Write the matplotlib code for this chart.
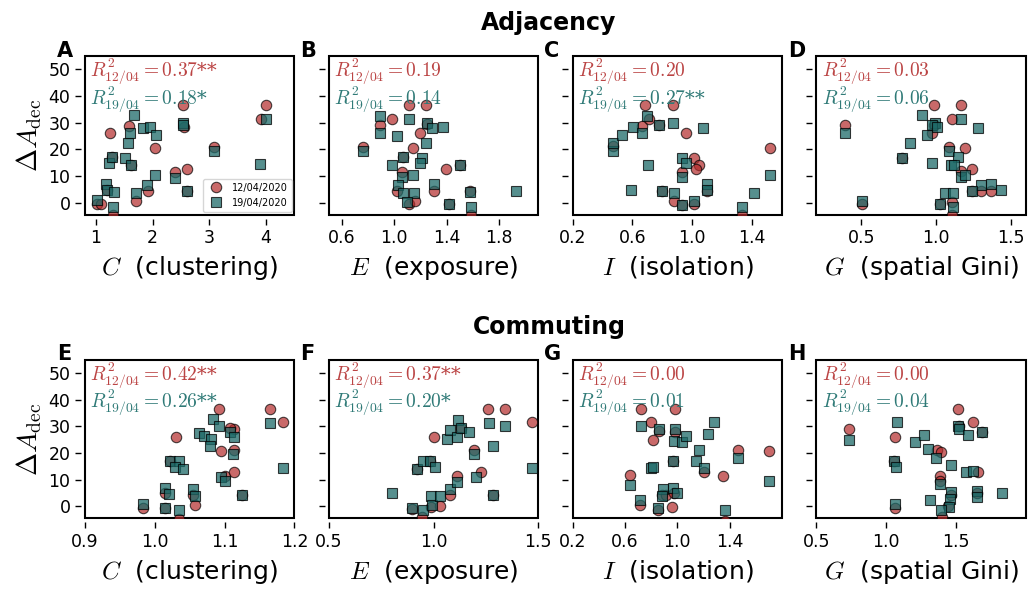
import numpy as np
import matplotlib.pyplot as plt

plt.rcParams['mathtext.fontset'] = 'cm'

# ---- values (x = segregation index, y = Delta A_dec) ----
# circles: 12/04/2020, squares: 19/04/2020
A_x12 = [1.02, 1.10, 1.25, 1.31, 1.59, 1.71, 1.92, 2.04, 2.40, 2.54, 2.55, 2.60, 2.60, 3.09, 3.91, 4.00, 1.28, 1.62, 1.19]
A_y12 = [-0.5, -0.6, 26.0, -4.5, 28.7, 0.5, 4.6, 20.5, 11.7, 36.5, 28.4, 12.7, 4.4, 21.0, 31.5, 36.5, 17.0, 14.0, 4.9]
A_x19 = [1.02, 1.18, 1.19, 1.24, 1.28, 1.33, 1.31, 1.52, 1.56, 1.61, 1.62, 1.67, 1.71, 1.84, 1.95, 1.90, 2.06, 2.04, 2.39, 2.54, 2.54, 2.60, 3.08, 3.90, 4.00]
A_y19 = [0.9, 6.9, 4.9, 15.0, 17.1, 4.0, -1.4, 16.8, 22.5, 26.0, 14.0, 32.75, 3.75, 28.0, 28.4, 6.5, 25.5, 10.5, 9.25, 30.0, 29.0, 4.4, 19.4, 14.4, 31.25]

B_x12 = [0.765, 0.89, 0.985, 1.11, 1.24, 1.195, 1.144, 1.06, 1.07, 1.02, 1.11, 1.157, 1.30, 1.395, 1.50, 1.58, 1.59, 1.42, 1.25]
B_y12 = [20.9, 29.0, 31.5, 36.5, 36.5, 26.1, 20.6, 11.5, 17.1, 4.25, -0.4, 0.5, 4.6, 12.75, 14.0, 4.6, -4.5, -0.4, 29.4]
B_x19 = [0.765, 0.89, 0.89, 1.02, 1.11, 1.25, 1.29, 1.37, 1.24, 1.21, 1.195, 1.07, 0.98, 1.144, 1.06, 1.03, 1.15, 1.07, 1.10, 1.30, 1.50, 1.58, 1.42, 1.59, 1.93]
B_y19 = [19.4, 32.5, 26.1, 25.0, 31.25, 29.9, 28.1, 28.4, 22.4, 16.9, 14.9, 17.1, 14.25, 10.6, 9.6, 6.5, 3.75, 3.75, 0.25, 6.9, 14.0, 4.0, -0.6, -1.4, 4.6]

C_x12 = [0.467, 0.662, 0.684, 0.711, 0.778, 0.871, 0.956, 1.011, 1.044, 1.022, 0.933, 0.80, 0.878, 0.933, 1.011, 1.096, 1.333, 1.522]
C_y12 = [21.1, 28.75, 36.5, 31.5, 29.0, 36.5, 26.1, 16.9, 14.0, 12.75, 11.5, 4.25, 0.5, -1.0, -0.6, 4.6, -4.5, 20.5]
C_x19 = [0.467, 0.467, 0.533, 0.607, 0.667, 0.696, 0.778, 0.871, 1.071, 0.929, 0.956, 0.933, 0.707, 0.589, 0.80, 0.878, 1.011, 0.933, 1.096, 1.096, 1.333, 1.411, 1.522]
C_y19 = [19.4, 22.5, 25.25, 28.4, 26.1, 32.4, 29.0, 29.9, 28.0, 16.9, 14.9, 9.6, 14.25, 4.9, 4.25, 3.6, 0.5, -1.0, 6.9, 4.9, -1.4, 3.75, 10.6]

D_x12 = [0.391, 0.502, 0.987, 1.165, 1.103, 0.971, 1.087, 1.192, 1.165, 1.237, 1.237, 1.30, 1.366, 1.109, 1.109, 1.027, 0.775, 0.987]
D_y12 = [29.0, -0.4, 36.5, 36.5, 31.5, 26.1, 20.9, 20.6, 12.1, 12.75, 4.6, 4.25, 4.6, 0.25, -4.5, -0.6, 16.9, 29.25]
D_x19 = [0.391, 0.502, 0.908, 0.991, 0.975, 1.004, 0.938, 0.826, 0.775, 1.165, 1.281, 1.087, 1.143, 0.971, 1.098, 1.12, 1.165, 1.192, 1.058, 1.116, 1.30, 1.366, 1.433, 1.027, 1.116, 1.237]
D_y19 = [26.1, 0.6, 32.75, 29.9, 29.0, 28.4, 25.25, 22.4, 16.9, 31.25, 28.0, 19.4, 17.1, 14.9, 14.25, 14.0, 9.6, 10.5, 3.75, 3.75, 6.5, 6.9, 4.9, -0.6, -1.4, 4.25]

E_x12 = [0.983, 1.015, 1.031, 1.015, 1.035, 1.057, 1.055, 1.092, 1.095, 1.10, 1.113, 1.113, 1.113, 1.125, 1.165, 1.183, 1.022, 1.107]
E_y12 = [-0.6, -0.75, 26.1, 4.9, -4.75, 0.6, 4.4, 36.5, 20.6, 11.5, 29.0, 21.1, 12.75, 4.4, 36.5, 31.5, 17.1, 29.25]
E_x19 = [0.983, 1.015, 1.02, 1.015, 1.035, 1.022, 1.034, 1.029, 1.04, 1.055, 1.058, 1.064, 1.071, 1.08, 1.079, 1.084, 1.092, 1.107, 1.114, 1.112, 1.095, 1.10, 1.125, 1.165, 1.183]
E_y19 = [0.9, 6.9, 4.6, -0.75, -1.25, 17.1, 16.9, 14.9, 14.0, 6.5, 3.75, 27.4, 26.5, 25.25, 22.75, 32.75, 30.0, 28.0, 25.9, 19.6, 10.9, 9.6, 4.4, 31.25, 14.4]

F_x12 = [0.898, 0.946, 0.99, 1.03, 1.078, 1.113, 1.0, 0.922, 0.982, 1.193, 1.229, 1.261, 1.34, 1.468, 1.285, 1.129]
F_y12 = [-1.0, -4.1, -0.4, 0.25, 4.4, 11.5, 26.1, 14.0, 16.9, 21.1, 12.75, 36.5, 36.5, 31.5, 4.4, 29.4]
F_x19 = [0.80, 0.898, 0.951, 0.922, 0.951, 0.982, 1.005, 0.99, 0.994, 1.03, 1.078, 1.113, 1.065, 1.081, 1.113, 1.116, 1.129, 1.169, 1.193, 1.205, 1.264, 1.283, 1.285, 1.34, 1.468]
F_y19 = [4.9, -0.75, -1.25, 14.0, 16.9, 16.9, 14.6, 4.0, 0.6, 3.75, 6.5, 9.25, 25.25, 28.6, 25.9, 32.5, 29.4, 27.75, 19.6, 10.9, 31.1, 22.5, 4.4, 30.25, 14.4]

G_x12 = [0.637, 0.713, 0.72, 0.796, 0.817, 0.86, 0.852, 0.885, 0.916, 0.974, 0.961, 0.966, 0.982, 0.982, 1.203, 1.35, 1.363, 1.464, 1.697]
G_y12 = [11.75, 0.5, 36.5, 31.5, 24.9, 28.1, -1.25, 4.4, 4.4, 4.9, -0.4, 17.1, 36.5, 27.75, 12.75, 11.5, -5.6, 21.1, 20.6]
G_x19 = [0.637, 0.713, 0.72, 0.796, 0.817, 0.86, 0.852, 0.893, 0.885, 0.967, 0.995, 0.967, 0.982, 0.975, 1.038, 1.068, 1.165, 1.14, 1.203, 1.233, 1.279, 1.363, 1.464, 1.697]
G_y19 = [8.1, 2.5, 30.0, 14.4, 14.6, 29.0, -0.6, 6.5, 4.0, 6.9, 4.9, 17.1, 29.0, 24.6, 24.0, 26.5, 21.25, 16.9, 14.25, 27.1, 31.5, -1.25, 18.1, 9.4]

H_x12 = [0.734, 1.062, 1.062, 1.055, 1.36, 1.395, 1.383, 1.383, 1.40, 1.44, 1.465, 1.516, 1.62, 1.657, 1.647, 1.687, 1.52]
H_y12 = [29.0, 25.9, -0.75, 16.9, 21.25, 20.25, 11.5, 9.4, -4.1, 0.25, 4.25, 36.5, 31.5, 12.75, 5.0, 28.0, 30.25]
H_x19 = [0.734, 1.055, 1.067, 1.062, 1.074, 1.203, 1.273, 1.301, 1.353, 1.313, 1.388, 1.465, 1.465, 1.46, 1.453, 1.395, 1.512, 1.523, 1.582, 1.57, 1.622, 1.652, 1.647, 1.687, 1.828]
H_y19 = [24.9, 16.9, 14.9, 0.9, 31.5, 24.0, 26.9, 21.5, 18.1, 2.5, 8.4, 15.5, 5.25, 2.75, -0.1, -1.4, 30.0, 29.0, 26.75, 12.75, 13.1, 5.9, 3.4, 28.0, 4.9]

letters = ['A', 'B', 'C', 'D', 'E', 'F', 'G', 'H']
r2_12 = ['0.37', '0.19', '0.20', '0.03', '0.42', '0.37', '0.00', '0.00']
sig_12 = ['**', '', '', '', '**', '**', '', '']
r2_19 = ['0.18', '0.14', '0.27', '0.06', '0.26', '0.20', '0.01', '0.04']
sig_19 = ['*', '', '**', '', '**', '*', '', '']
xlabels = ['$C$  (clustering)', '$E$  (exposure)', '$I$  (isolation)', '$G$  (spatial Gini)'] * 2
xticks = [[1, 2, 3, 4], [0.6, 1.0, 1.4, 1.8], [0.2, 0.6, 1.0, 1.4], [0.5, 1.0, 1.5],
          [0.9, 1.0, 1.1, 1.2], [0.5, 1.0, 1.5], [0.2, 0.6, 1.0, 1.4], [0.5, 1.0, 1.5]]
xlims = [(0.81, 4.5), (0.5, 2.1), (0.2, 1.6), (0.2, 1.6),
         (0.9, 1.2), (0.5, 1.5), (0.2, 1.8), (0.5, 2.0)]

data = [(A_x12, A_y12, A_x19, A_y19), (B_x12, B_y12, B_x19, B_y19),
        (C_x12, C_y12, C_x19, C_y19), (D_x12, D_y12, D_x19, D_y19),
        (E_x12, E_y12, E_x19, E_y19), (F_x12, F_y12, F_x19, F_y19),
        (G_x12, G_y12, G_x19, G_y19), (H_x12, H_y12, H_x19, H_y19)]

c12 = '#b22a2a'
c19 = '#1d6a68'
t12 = '#bb4444'
t19 = '#2f7a77'

fig, axes = plt.subplots(2, 4, figsize=(10.3, 5.9), dpi=100, sharey=True)
fig.subplots_adjust(left=0.0825, right=0.996, top=0.905, bottom=0.122, wspace=0.164, hspace=0.915)

for i, ax in enumerate(axes.flat):
    x12, y12, x19, y19 = data[i]
    ax.plot(x12, y12, 'o', color=c12, mec='k', mew=0.8, ms=7.5, alpha=0.7, label='12/04/2020')
    ax.plot(x19, y19, 's', color=c19, mec='k', mew=0.8, ms=7.2, alpha=0.75, label='19/04/2020')
    ax.set_xlim(xlims[i])
    ax.set_ylim(-4.4, 55)
    ax.set_xticks(xticks[i])
    if i == 0:
        ax.set_xticklabels([str(t) for t in xticks[i]])
    else:
        ax.set_xticklabels(['%.1f' % t for t in xticks[i]])
    ax.set_yticks([0, 10, 20, 30, 40, 50])
    # ticks sit a little off the frame; the frame itself is the patch edge
    for s in ['left', 'bottom']:
        ax.spines[s].set_position(('outward', 3))
    for s in ax.spines:
        ax.spines[s].set_visible(False)
    ax.patch.set_edgecolor('black')
    ax.patch.set_linewidth(1.5)
    ax.tick_params(direction='out', length=4.5, width=1, labelsize=12.5, pad=3)
    ax.set_xlabel(xlabels[i], fontsize=18, labelpad=5)
    ax.text(0.025, 0.873, r'$R^2_{12/04}=' + r2_12[i] + '$' + sig_12[i],
            transform=ax.transAxes, color=t12, fontsize=14, family='DejaVu Serif', va='baseline')
    ax.text(0.025, 0.698, r'$R^2_{19/04}=' + r2_19[i] + '$' + sig_19[i],
            transform=ax.transAxes, color=t19, fontsize=14, family='DejaVu Serif', va='baseline')
    ax.text(-0.135, 0.995, letters[i], transform=ax.transAxes, fontsize=15,
            fontweight='bold', va='baseline')
    if i % 4 == 0:
        ax.set_ylabel(r'$\Delta A_{\rm dec}$', fontsize=20, labelpad=3)

axes[0, 0].legend(loc='lower right', fontsize=7, borderaxespad=0.3, handletextpad=0.6, borderpad=0.4)

fig.text(0.533, 0.961, 'Adjacency', ha='center', va='center', fontsize=17, fontweight='bold')
fig.text(0.533, 0.446, 'Commuting', ha='center', va='center', fontsize=17, fontweight='bold')

plt.savefig('out.png', dpi=100)
